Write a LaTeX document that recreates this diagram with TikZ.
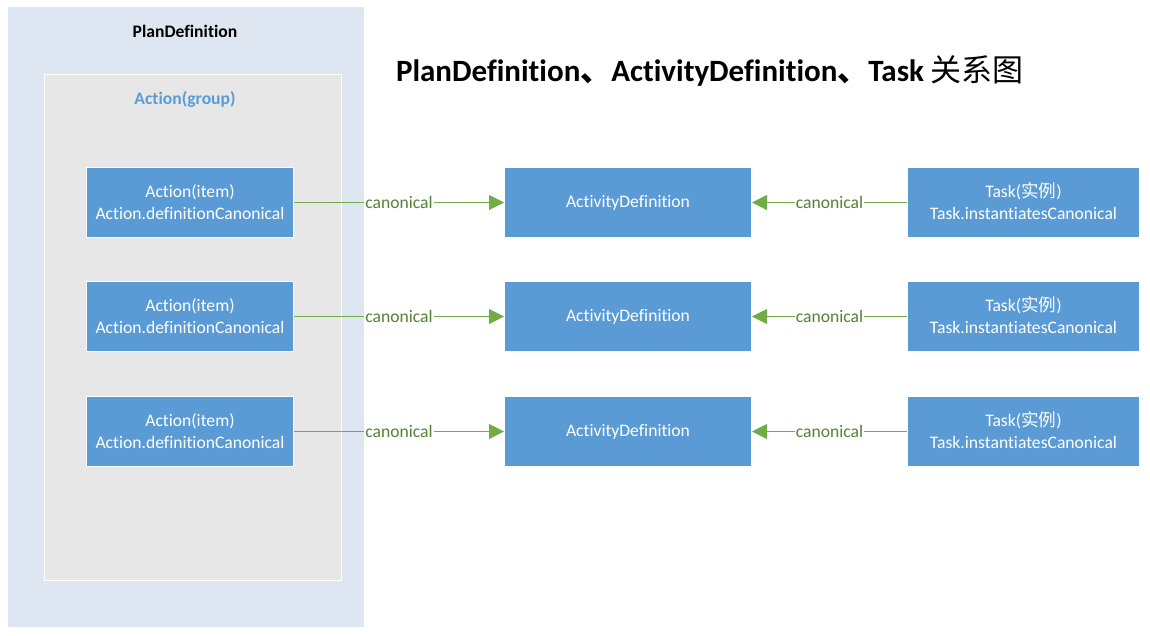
\documentclass[tikz,border=0pt]{standalone}
\usepackage{fontspec}
\setmainfont{Carlito}[Ligatures=NoCommon]
\newfontfamily\cjk{Noto Sans CJK SC}
\usetikzlibrary{arrows.meta}
\definecolor{boxblue}{HTML}{5B9BD5}
\definecolor{outerbg}{HTML}{DEE6F2}
\definecolor{innerbg}{HTML}{E7E7E7}
\definecolor{lgreen}{HTML}{70AD47}
\definecolor{dgreen}{HTML}{548235}
\begin{document}
\begin{tikzpicture}[x=1pt,y=-1pt,
  bluebox/.style={draw=white,line width=1pt,fill=boxblue,text=white,font=\fontsize{17.6}{22}\selectfont,align=center,inner sep=0pt,anchor=north west},
  conn/.style={draw=lgreen,line width=1pt,-{Triangle[length=15pt,width=15pt]}},
  clabel/.style={fill=white,text=dgreen,font=\fontsize{17.6}{21.5}\selectfont,inner sep=1pt}]
\useasboundingbox (0,0) rectangle (1150,635);
\fill[white] (0,0) rectangle (1150,635);
% outer
\node[fill=outerbg,minimum width=356pt,minimum height=620pt,inner sep=0pt,anchor=north west] (plan) at (8,7) {};
\node[font=\bfseries\fontsize{17.6}{21}\selectfont] (planlbl) at (185,31) {PlanDefinition};
\node[fill=innerbg,draw=white,line width=1pt,minimum width=297pt,minimum height=506pt,inner sep=0pt,anchor=north west] (group) at (44,74) {};
\node[font=\bfseries\fontsize{17.6}{21}\selectfont,text=boxblue] (grouplbl) at (185,99) {Action(group)};
% title
\node[font=\bfseries\fontsize{31}{36}\selectfont] (title) at (710,71) {PlanDefinition{\cjk 、}ActivityDefinition{\cjk 、}Task {\cjk\mdseries 关系图}};
% rows
\foreach \i/\y in {1/167,2/281,3/396}{
  \node[bluebox,minimum width=207pt,minimum height=70pt] (item\i) at (86,\y) {Action(item)\\Action.definitionCanonical};
  \node[bluebox,minimum width=247pt,minimum height=70pt] (ad\i) at (504,\y) {ActivityDefinition};
  \node[bluebox,minimum width=232pt,minimum height=70pt] (task\i) at (907,\y) {Task({\cjk\smash{实例}})\\Task.instantiatesCanonical};
  \draw[conn] (item\i.east) -- node[clabel,pos=0.5] {canonical} (ad\i.west);
  \draw[conn] (task\i.west) -- node[clabel,pos=0.5] {canonical} (ad\i.east);
}
\end{tikzpicture}
\end{document}
